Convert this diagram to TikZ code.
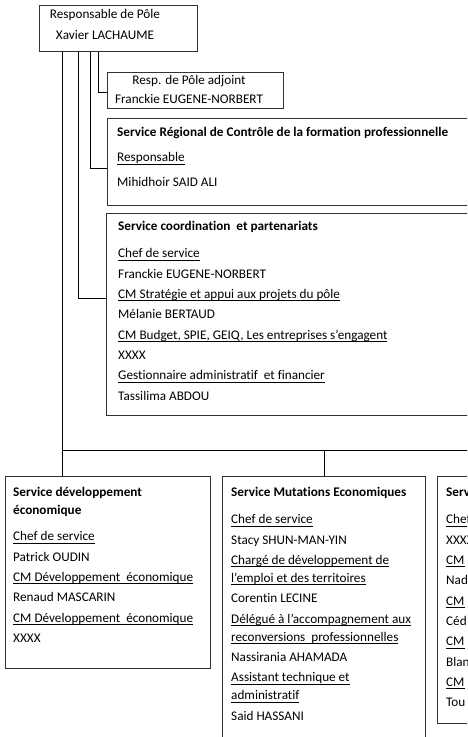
\documentclass[tikz,border=0pt]{standalone}
\usepackage{fontspec}
\setmainfont{Carlito}[Ligatures=NoCommon]
\usetikzlibrary{positioning,calc}

\newcommand{\souligne}[1]{\setbox0\hbox{#1}\rlap{\rule[-2.6pt]{\wd0}{0.7pt}}\box0}

\begin{document}
\begin{tikzpicture}[x=1pt, y=-1pt,
    cadre/.style={rectangle, draw=black!80, line width=0.9pt, anchor=north west, inner sep=0pt},
    texte/.style={anchor=north west, inner sep=0pt, align=left, font=\fontsize{13.2}{20.3}\selectfont, execute at begin node={\rule{0pt}{10pt}}},
    lien/.style={draw=black, line width=0.8pt}
]
    \useasboundingbox (0,0) rectangle (467,737);
    \clip (0,0) rectangle (467,737);

    % cadres
    \node [cadre, minimum width=158pt, minimum height=46pt] (pole) at (39,5) {};
    \node [cadre, minimum width=176pt, minimum height=36pt] (adjoint) at (107,72) {};
    \node [cadre, minimum width=400pt, minimum height=87pt] (controle) at (107,118) {};
    \node [cadre, minimum width=400pt, minimum height=202pt] (coordination) at (106,213) {};
    \node [cadre, minimum width=205pt, minimum height=192pt] (developpement) at (5,476) {};
    \node [cadre, minimum width=203pt, minimum height=280pt] (mutations) at (222,476) {};
    \node [cadre, minimum width=205pt, minimum height=247pt] (service3) at (437,476) {};

    % textes
    \node [texte, anchor=north, align=center, font=\fontsize{13.2}{21}\selectfont] (pole-t) at (105,9.5) {Responsable de Pôle\\Xavier LACHAUME};
    \node [texte, anchor=north, align=center, font=\fontsize{13.2}{19}\selectfont] (adjoint-t) at (189,75.5) {Resp. de Pôle adjoint\\Franckie EUGENE-NORBERT};
    \node [texte] (controle-t) at (117,127.5) {\textbf{Service Régional de Contrôle de la formation professionnelle}\\[4.7pt]
        \souligne{Responsable}\\[4.7pt]
        Mihidhoir SAID ALI};
    \node [texte] (coordination-t) at (118,221.5) {\textbf{Service coordination\ \ et partenariats}\\[6.7pt]
        \souligne{Chef de service}\\
        Franckie EUGENE-NORBERT\\
        \souligne{CM Stratégie et appui aux projets du pôle}\\
        Mélanie BERTAUD\\
        \souligne{CM Budget, SPIE, GEIQ, Les entreprises s'engagent}\\
        XXXX\\
        \souligne{Gestionnaire administratif\ \ et financier}\\
        Tassilima ABDOU};
    \node [texte] (developpement-t) at (13,487.5) {\textbf{Service développement}\\[-2.3pt]
        \textbf{économique}\\[5.7pt]
        \souligne{Chef de service}\\
        Patrick OUDIN\\
        \souligne{CM Développement\ \ économique}\\
        Renaud MASCARIN\\
        \souligne{CM Développement\ \ économique}\\
        XXXX};
    \node [texte] (mutations-t) at (231,487.5) {\textbf{Service Mutations Economiques}\\[6.7pt]
        \souligne{Chef de service}\\
        Stacy SHUN-MAN-YIN\\
        \souligne{Chargé de développement de}\\[-2.3pt]
        \souligne{l'emploi et des territoires}\\
        Corentin LECINE\\
        \souligne{Délégué à l'accompagnement aux}\\[-2.3pt]
        \souligne{reconversions\ \ professionnelles}\\
        Nassirania AHAMADA\\
        \souligne{Assistant technique et}\\[-2.3pt]
        \souligne{administratif}\\
        Said HASSANI};
    \node [texte] (service3-t) at (446,487.5) {\textbf{Service}\\[6.7pt]
        \souligne{Chef de service}\\
        XXXX\\
        \souligne{CM}\\
        Nad\\
        \souligne{CM}\\
        Céd\\
        \souligne{CM}\\
        Blan\\
        \souligne{CM}\\
        Tou};

    % liaisons
    \coordinate (bus) at (62,450);
    \coordinate (bus-fin) at (480,450);
    \draw [lien] ([xshift=59pt]pole.south west) |- ([yshift=-2pt]adjoint.west);
    \draw [lien] ([xshift=51pt]pole.south west) |- ([yshift=-6.5pt]controle.west);
    \draw [lien] ([xshift=39pt]pole.south west) |- ([yshift=16pt]coordination.west);
    \draw [lien] ([xshift=23pt]pole.south west) -- ([xshift=57pt]developpement.north west);
    \draw [lien] (bus) -- (bus-fin);
    \draw [lien] (bus -| mutations.north) -- (mutations.north);
\end{tikzpicture}
\end{document}
